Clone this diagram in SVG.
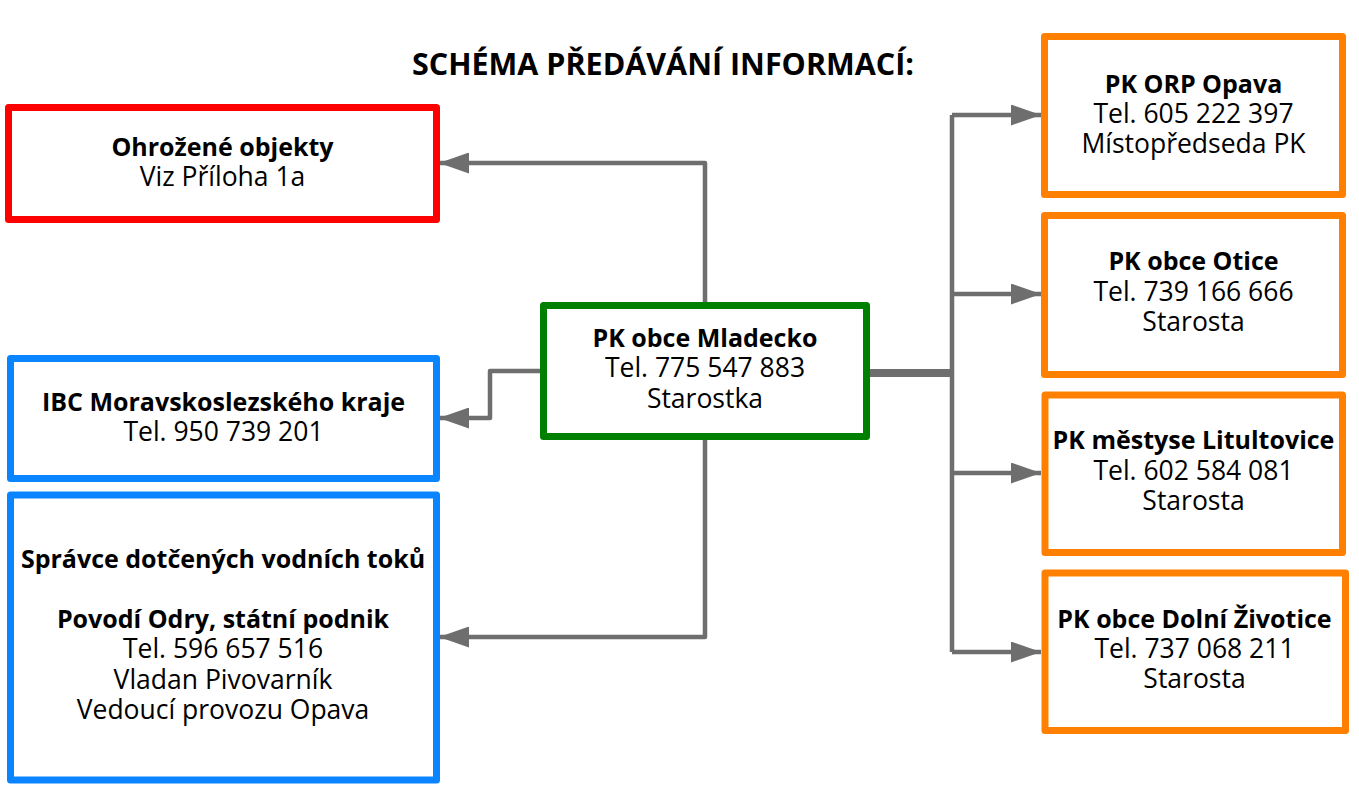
<svg xmlns="http://www.w3.org/2000/svg" width="1359" height="787" viewBox="0 0 1359 787">
<style>
.box{fill:#fff;stroke-width:7;stroke-linejoin:round}
.red{stroke:#ff0000}.blue{stroke:#0a84ff}.green{stroke:#008000}.orange{stroke:#ff8000}
text{font-family:"Open Sans","Noto Sans",sans-serif;font-size:26.5px;fill:#000;text-anchor:middle}
.b{font-weight:bold;font-size:25px}
.title{font-size:30.5px;font-weight:bold}
.conn{fill:none;stroke:#6e6e6e;stroke-width:4.5;stroke-linejoin:round}
</style>
<defs>
<marker id="arr" viewBox="0 0 30 21" refX="30" refY="10.5" markerWidth="30" markerHeight="21" markerUnits="userSpaceOnUse" orient="auto">
<path d="M0,0 L30,10.5 L0,21 Z" fill="#6e6e6e"/>
</marker>
</defs>
<text class="title" x="663" y="75">SCHÉMA PŘEDÁVÁNÍ INFORMACÍ:</text>
<g id="connectors">
<path class="conn" d="M705,305 V163 H439" marker-end="url(#arr)"/>
<path class="conn" d="M543,371 H490 V418 H439" marker-end="url(#arr)"/>
<path class="conn" d="M705,437 V637 H439" marker-end="url(#arr)"/>
<path class="conn" d="M865,373 H952" style="stroke-width:8"/>
<path class="conn" d="M952,115 V652"/>
<path class="conn" d="M952,115 H1041" marker-end="url(#arr)"/>
<path class="conn" d="M952,294 H1041" marker-end="url(#arr)"/>
<path class="conn" d="M952,473 H1041" marker-end="url(#arr)"/>
<path class="conn" d="M952,652 H1041" marker-end="url(#arr)"/>
</g>
<g id="ohrozene">
<rect class="box red" x="8.5" y="107.5" width="428" height="112"/>
<text x="222.5" y="156"><tspan class="b">Ohrožené objekty</tspan><tspan x="222.5" dy="30">Viz Příloha 1a</tspan></text>
</g>
<g id="ibc">
<rect class="box blue" x="10.5" y="358.5" width="426" height="120"/>
<text x="223.5" y="411"><tspan class="b">IBC Moravskoslezského kraje</tspan><tspan x="223.5" dy="30">Tel. 950 739 201</tspan></text>
</g>
<g id="spravce">
<rect class="box blue" x="10.5" y="495" width="426" height="285"/>
<text x="223" y="568"><tspan class="b">Správce dotčených vodních toků</tspan><tspan class="b" x="223" dy="60">Povodí Odry, státní podnik</tspan><tspan x="223" dy="30">Tel. 596 657 516</tspan><tspan x="223" dy="30.5">Vladan Pivovarník</tspan><tspan x="223" dy="30">Vedoucí provozu Opava</tspan></text>
</g>
<g id="mladecko">
<rect class="box green" x="543.5" y="305.5" width="323" height="131"/>
<text x="705" y="347"><tspan class="b">PK obce Mladecko</tspan><tspan x="705" dy="30">Tel. 775 547 883</tspan><tspan x="705" dy="30.5">Starostka</tspan></text>
</g>
<g id="orp-opava">
<rect class="box orange" x="1044.5" y="36.5" width="298" height="158"/>
<text x="1193.5" y="93"><tspan class="b">PK ORP Opava</tspan><tspan x="1193.5" dy="30">Tel. 605 222 397</tspan><tspan x="1193.5" dy="30">Místopředseda PK</tspan></text>
</g>
<g id="otice">
<rect class="box orange" x="1044.5" y="215.5" width="298" height="159"/>
<text x="1193.5" y="270"><tspan class="b">PK obce Otice</tspan><tspan x="1193.5" dy="30.5">Tel. 739 166 666</tspan><tspan x="1193.5" dy="30">Starosta</tspan></text>
</g>
<g id="litultovice">
<rect class="box orange" x="1045" y="395" width="297.5" height="157.5"/>
<text x="1193.5" y="449"><tspan class="b">PK městyse Litultovice</tspan><tspan x="1193.5" dy="30.5">Tel. 602 584 081</tspan><tspan x="1193.5" dy="30">Starosta</tspan></text>
</g>
<g id="dolni-zivotice">
<rect class="box orange" x="1045" y="573" width="300.5" height="157.5"/>
<text x="1194.5" y="628"><tspan class="b">PK obce Dolní Životice</tspan><tspan x="1194.5" dy="30">Tel. 737 068 211</tspan><tspan x="1194.5" dy="30">Starosta</tspan></text>
</g>
</svg>
